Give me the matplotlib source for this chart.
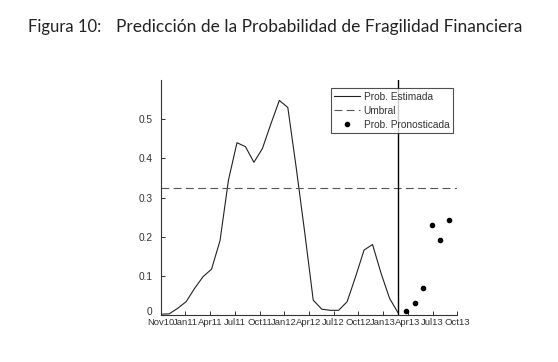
import numpy as np
import matplotlib
matplotlib.use('Agg')
import matplotlib.pyplot as plt
import matplotlib.transforms as mtransforms

# Monthly estimated probability (Nov10 .. Mar13) and forecast (Apr13 .. Sep13)
prob_estimada = [0.002, 0.003, 0.017, 0.034, 0.068, 0.098, 0.117, 0.19, 0.345,
                 0.44, 0.43, 0.39, 0.425, 0.488, 0.548, 0.53, 0.375, 0.21, 0.038,
                 0.015, 0.012, 0.012, 0.034, 0.098, 0.166, 0.18, 0.107, 0.043, 0.006]
prob_pronosticada = [0.009, 0.031, 0.07, 0.23, 0.192, 0.243]
umbral = 0.325
tick_labels = ['Nov10', 'Jan11', 'Apr11', 'Jul11', 'Oct11', 'Jan12', 'Apr12',
               'Jul12', 'Oct12', 'Jan13', 'Apr13', 'Jul13', 'Oct13']

n_est = len(prob_estimada)
x_est = np.arange(n_est)
x_pron = np.arange(n_est, n_est + len(prob_pronosticada))
x_max = n_est + len(prob_pronosticada)

fig = plt.figure(figsize=(5.58, 3.62), dpi=100)
fig.text(0.05, 0.925, 'Figura 10:', fontsize=12, family='Lato', color='#222222',
         va='center')
fig.text(0.208, 0.925, 'Predicción de la Probabilidad de Fragilidad Financiera',
         fontsize=12.5, family='Lato', color='#222222', va='center')

ax = fig.add_axes([0.288, 0.1298, 0.5315, 0.649])
ax.plot(x_est, prob_estimada, color='#222222', linewidth=0.8, label='Prob. Estimada')
ax.plot([0, x_max], [umbral, umbral], color='#555555', linewidth=0.8,
        linestyle=(0, (7, 4)), label='Umbral')
ax.plot(x_pron, prob_pronosticada, linestyle='none', marker='o', markersize=3.0,
        color='black', label='Prob. Pronosticada')
ax.axvline(n_est - 1, color='black', linewidth=1.0)

ax.set_xlim(0, x_max)
ax.set_ylim(0, 0.6)
ax.set_xticks(np.linspace(0, x_max, len(tick_labels)))
ax.set_xticklabels(tick_labels)
ax.set_yticks([0, 0.1, 0.2, 0.3, 0.4, 0.5])
ax.set_yticklabels(['0', '0.1', '0.2', '0.3', '0.4', '0.5'])
for s in ['top', 'right']:
    ax.spines[s].set_visible(False)
for s in ['left', 'bottom']:
    ax.spines[s].set_color('#333333')
    ax.spines[s].set_linewidth(0.8)
ax.tick_params(axis='both', direction='in', length=3, width=0.7, color='#333333',
               labelsize=7.3, labelcolor='#333333')
ax.tick_params(axis='x', pad=2, labelsize=6.8)
ax.tick_params(axis='y', pad=6)
for lab in ax.get_xticklabels() + ax.get_yticklabels():
    lab.set_family('Liberation Sans')

# lift the "0" label a little so it clears the first date label
zero_lab = ax.get_yticklabels()[0]
zero_lab.set_transform(zero_lab.get_transform() +
                       mtransforms.ScaledTranslation(0, 3 / 72, fig.dpi_scale_trans))

leg = ax.legend(loc='upper right', bbox_to_anchor=(0.985, 0.965),
                frameon=True, fancybox=False, handlelength=2.6, handletextpad=0.3,
                borderpad=0.35, labelspacing=0.38, borderaxespad=0,
                prop={'family': 'Liberation Sans', 'size': 7.3})
leg.get_frame().set_edgecolor('#222222')
leg.get_frame().set_linewidth(0.8)
for t in leg.get_texts():
    t.set_color('#333333')

fig.savefig('out.png', dpi=100)
